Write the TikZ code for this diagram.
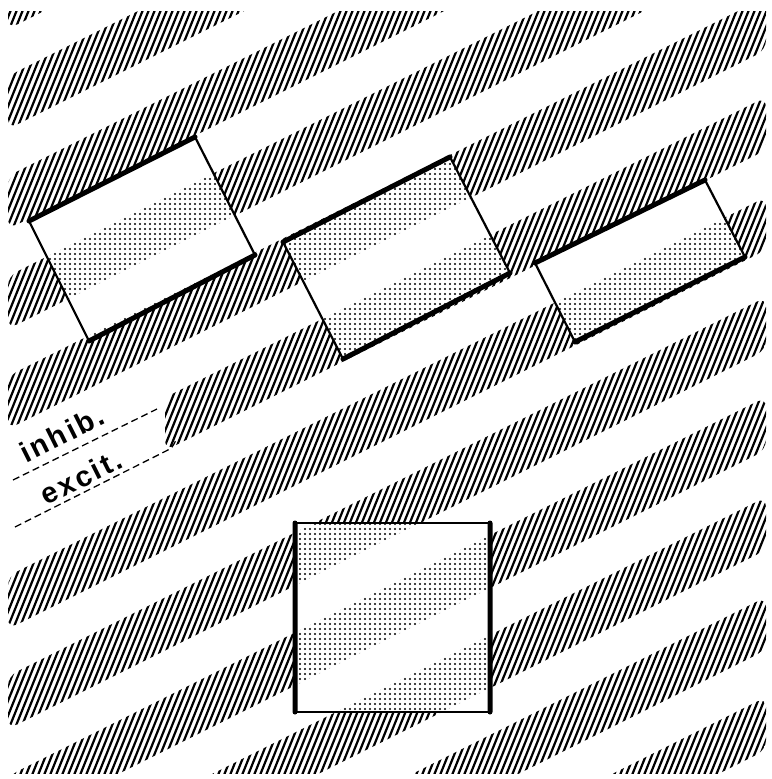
\documentclass[tikz,border=0pt]{standalone}
\usepackage{fontspec}
\newfontfamily\legendfont[LetterSpace=9]{Liberation Sans}
\usetikzlibrary{patterns.meta}

\newcommand{\band}[3]{(#1,{#2-0.5*#1}) -- (766,{#2-383}) -- (766,{#3-383}) -- (#1,{#3-0.5*#1}) -- cycle}
\newcommand{\grating}{foreach \k/\xl in {-1/8,0/8,1/8,2/8,3/8,4/165,5/8,6/8,7/8,8/8,9/8,10/8} {\band{\xl}{80+100*\k}{133+100*\k}}}

\begin{document}
\begin{tikzpicture}[x=1pt,y=-1pt,
  hatch/.style={line width=2.2pt},
  dotband/.style={pattern={Dots[distance=5pt,radius=1.2pt,angle=0]}},
  thick edge/.style={line width=5pt,line cap=round},
  thin edge/.style={line width=2.2pt,line join=round},
  legend line/.style={line width=1.3pt,dash pattern=on 7pt off 4pt},
  legend/.style={font=\legendfont\bfseries\fontsize{29}{29}\selectfont,rotate=26.57,inner sep=0pt}]
  \useasboundingbox (0,0) rectangle (771,779);
  \begin{scope}
    \clip (0,11) rectangle (771,773);
    \clip[rounded corners=10pt] \grating;
    \foreach \i in {-340,-334,...,780} \draw[hatch] (\i,790) -- ++(323,-800);
  \end{scope}
  \coordinate (a1) at (29,221);  \coordinate (b1) at (195,137); \coordinate (c1) at (255,255); \coordinate (d1) at (89,341);
  \coordinate (a2) at (283,242); \coordinate (b2) at (450,157); \coordinate (c2) at (510,273); \coordinate (d2) at (343,359);
  \coordinate (a3) at (535,263); \coordinate (b3) at (705,180); \coordinate (c3) at (745,257); \coordinate (d3) at (575,342);
  \coordinate (a4) at (295,523); \coordinate (b4) at (490,523); \coordinate (c4) at (490,712); \coordinate (d4) at (295,712);
  \foreach \r in {1,2,3,4} {
    \fill[white] (a\r) -- (b\r) -- (c\r) -- (d\r) -- cycle;
    \begin{scope}
      \clip (a\r) -- (b\r) -- (c\r) -- (d\r) -- cycle;
      \fill[dotband] \grating;
    \end{scope}
    \draw[thin edge] (a\r) -- (b\r) -- (c\r) -- (d\r) -- cycle;
  }
  \draw[thick edge] (a1) -- (b1) (d1) -- (c1) (a2) -- (b2) (d2) -- (c2) (a3) -- (b3) (d3) -- (c3) (a4) -- (d4) (b4) -- (c4);
  \node[legend] (inhib) at (62,434) {inhib.};
  \node[legend] (excit) at (81,477) {excit.};
  \coordinate (u1) at (13,480); \coordinate (u2) at (157,409);
  \coordinate (l1) at (15,527); \coordinate (l2) at (166,451); \coordinate (l3) at (176,440);
  \draw[legend line] (u1) -- (u2);
  \draw[legend line] (l1) -- (l2) .. controls (172,448) .. (l3);
\end{tikzpicture}
\end{document}
